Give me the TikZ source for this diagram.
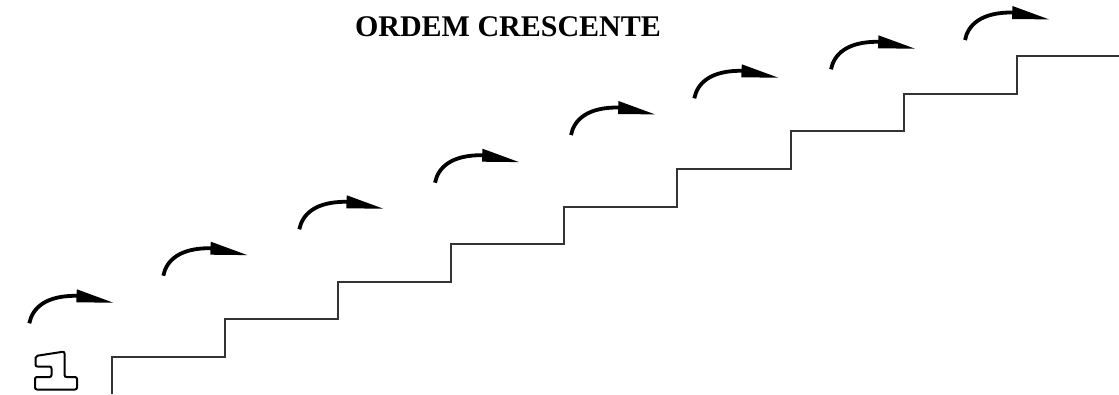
\documentclass[tikz,border=0pt]{standalone}
\usepackage{fontspec}
\setmainfont{Liberation Serif}

\tikzset{
    stairline/.style={draw=black!80, line width=2pt},
    jumpline/.style={line width=3.8pt, line cap=butt},
    jumptip/.style={fill=black},
    digitline/.style={draw=black, line width=2pt, rounded corners=2pt}
}

\begin{document}
\begin{tikzpicture}[x=1pt,y=-1pt]
        \useasboundingbox (0,0) rectangle (1119,394);
        \node[anchor=base, font=\bfseries\fontsize{30}{30}\selectfont, inner sep=0pt] (T) at (508,36) {ORDEM CRESCENTE};
        % the stairs
        \draw[stairline] (111.7,394) -- (111.7,357) \foreach \i in {1,...,8} { -- ++(113.15,0) -- ++(0,-37.625) } -- (1119,56);
        % one jump arrow above each step
        \foreach \x/\y in {29.3/323.3, 163.3/275.7, 299.3/229.3, 435/182.7, 571/135, 694.3/98.3, 831/69.3, 965/40} {
            \begin{scope}[shift={(\x,\y)}]
                \draw[jumpline] (0,0) .. controls (3,-15) and (16,-28) .. (48,-27.5);
                \fill[jumptip] (47.5,-34) -- (84,-20.6) -- (47,-21) -- cycle;
            \end{scope}
        }
        % the digit 1 at the foot of the stairs
        \draw[digitline] (35.5,356) -- (64.5,351.5) -- (64.5,377) -- (77,377) -- (77,389.5) -- (35,389.5) -- (35,377) -- (51.5,377) -- (51.5,366.5) -- (35.5,366.5) -- cycle;
    \end{tikzpicture}
\end{document}
